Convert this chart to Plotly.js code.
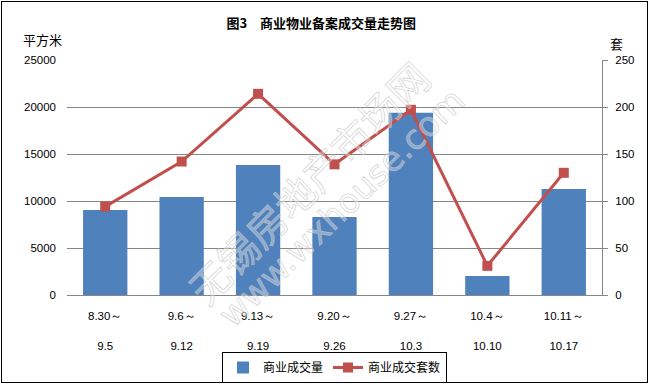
<!DOCTYPE html>
<html>
<head>
<meta charset="utf-8">
<script src="https://cdn.plot.ly/plotly-3.0.1.min.js"></script>
<style>
  html, body { margin: 0; padding: 0; background: #fff; }
  #wrap { position: relative; width: 649px; height: 384px; }
  #chart { width: 649px; height: 384px; }
  #frame { position: absolute; left: 1px; top: 1px; width: 645px; height: 380px; border: 1px solid #000; pointer-events: none; }
  .annotation[data-index="2"] text, .annotation[data-index="3"] text {
    stroke: rgba(195,195,195,0.7); stroke-width: 0.8px;
  }
</style>
</head>
<body>
<div id="wrap"><div id="chart"></div><div id="frame"></div></div>
<script>
// ---- data ----
const periodStart = ["8.30～", "9.6～", "9.13～", "9.20～", "9.27～", "10.4～", "10.11～"];
const periodEnd   = ["9.5", "9.12", "9.19", "9.26", "10.3", "10.10", "10.17"];
const areaValues  = [9050, 10430, 13830, 8300, 19390, 2020, 11280];   // 商业成交量 (平方米)
const unitValues  = [94, 142, 214, 139, 197, 31, 130];                 // 商业成交套数 (套)
const seriesNames = ["商业成交量", "商业成交套数"];
const categories = periodStart.map((s, i) => s + periodEnd[i]);

const numFont = { family: "Liberation Sans, Arial, sans-serif", size: 11.5, color: "#000" };
const cjk = "Noto Sans CJK SC, sans-serif";

const traces = [
  {
    type: "bar", name: seriesNames[0], x: categories, y: areaValues,
    xaxis: "x", yaxis: "y",
    marker: { color: "#4F81BD" }
  },
  {
    type: "scatter", mode: "lines+markers", name: seriesNames[1], x: categories, y: unitValues,
    xaxis: "x2", yaxis: "y2",
    line: { color: "#C0504D", width: 3 },
    marker: { color: "#C0504D", symbol: "square", size: 10 }
  }
];

const layout = {
  width: 649, height: 384,
  margin: { l: 67, r: 47, t: 60, b: 89, autoexpand: false },
  paper_bgcolor: "#fff", plot_bgcolor: "#fff",
  bargap: 0.42,
  showlegend: true,
  title: {
    text: "<b>图3　商业物业备案成交量走势图</b>",
    font: { family: cjk, size: 13, color: "#000" },
    x: 0.495, xref: "container", xanchor: "center",
    y: 1 - 23 / 384, yref: "container", yanchor: "middle"
  },
  xaxis: {
    type: "category", range: [-0.5, 6.5], tickvals: categories, ticktext: periodStart,
    showline: true, linecolor: "#868686", linewidth: 1, ticks: "", showgrid: false,
    tickfont: numFont, ticklabelstandoff: 10, fixedrange: true, automargin: false
  },
  xaxis2: {
    type: "category", range: [-0.5, 6.5], tickvals: categories, ticktext: periodEnd,
    overlaying: "x", anchor: "y", side: "bottom",
    showline: false, ticks: "", showgrid: false,
    tickfont: numFont, ticklabelstandoff: 42, fixedrange: true, automargin: false
  },
  yaxis: {
    range: [0, 25000], dtick: 5000, tick0: 0, tickformat: "d",
    showgrid: true, gridcolor: "#868686", gridwidth: 1, zeroline: false,
    showline: false, ticks: "", exponentformat: "none",
    tickfont: numFont, ticklabelstandoff: 10, fixedrange: true, automargin: false
  },
  yaxis2: {
    range: [0, 250], dtick: 50, tick0: 0, tickformat: "d", overlaying: "y", side: "right", anchor: "x",
    showgrid: false, zeroline: false,
    showline: true, linecolor: "#868686", linewidth: 1,
    ticks: "outside", ticklen: 5, tickcolor: "#868686",
    tickfont: numFont, ticklabelstandoff: 5, fixedrange: true, automargin: false
  },
  legend: {
    orientation: "h", x: 0.5, xanchor: "center", xref: "paper",
    y: (295 - 352) / 235, yanchor: "top",
    bordercolor: "#000", borderwidth: 1, bgcolor: "rgba(255,255,255,0)",
    font: { family: cjk, size: 12, color: "#000" },
    itemwidth: 30, tracegroupgap: 0
  },
  annotations: [
    { text: "平方米", xref: "paper", yref: "paper", x: (42 - 67) / 535, y: (295 - 39) / 235,
      xanchor: "center", yanchor: "middle", showarrow: false,
      font: { family: cjk, size: 13, color: "#000" } },
    { text: "套", xref: "paper", yref: "paper", x: (616 - 67) / 535, y: (295 - 44) / 235,
      xanchor: "center", yanchor: "middle", showarrow: false,
      font: { family: cjk, size: 13, color: "#000" } },
    { text: "无锡房地产市场网", xref: "paper", yref: "paper", x: (308 - 67) / 535, y: (295 - 182) / 235,
      xanchor: "center", yanchor: "middle", showarrow: false, textangle: -45,
      font: { family: cjk, size: 40, color: "rgba(255,255,255,0.35)" } },
    { text: "www.wxhouse.com", xref: "paper", yref: "paper", x: (342 - 67) / 535, y: (295 - 207) / 235,
      xanchor: "center", yanchor: "middle", showarrow: false, textangle: -44,
      font: { family: "DejaVu Sans, sans-serif", size: 34, color: "rgba(255,255,255,0.35)" } }
  ]
};

Plotly.newPlot("chart", traces, layout, { staticPlot: true, displayModeBar: false });
</script>
</body>
</html>
